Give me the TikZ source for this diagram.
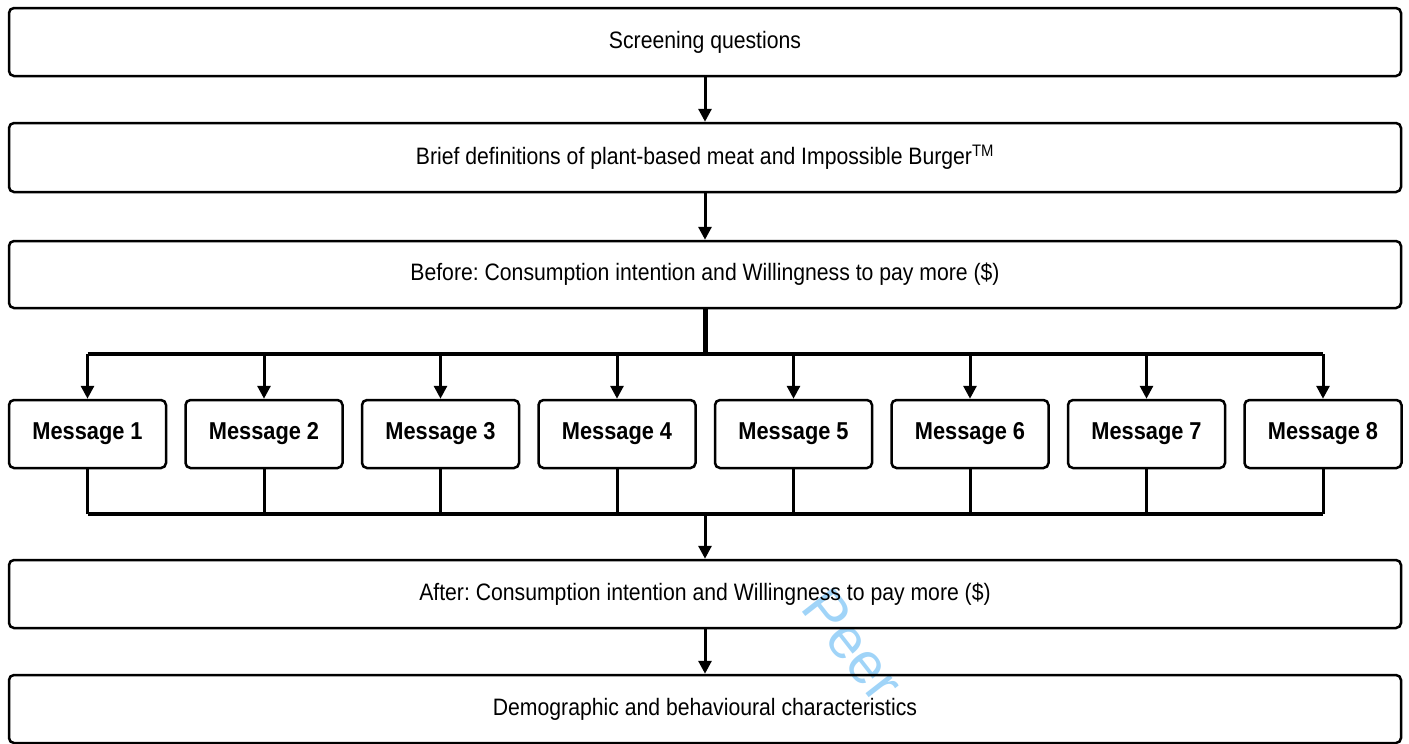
\documentclass[tikz,border=0pt]{standalone}
\usepackage{fontspec}
\setmainfont{Liberation Sans}
\usetikzlibrary{arrows.meta,calc}
\definecolor{wm}{RGB}{160,212,248}
\newcommand{\stt}[1]{\scalebox{1}[1.12]{#1}}
\begin{document}
\frenchspacing
\begin{tikzpicture}[x=1pt,y=-1pt,
  bigbox/.style={draw=black,line width=2.5pt,rounded corners=5pt,minimum width=1392pt,inner sep=0pt,font=\fontsize{21.2}{24}\selectfont},
  msgbox/.style={draw=black,line width=2.5pt,rounded corners=5pt,minimum width=157pt,minimum height=68pt,inner sep=0pt,font=\bfseries\fontsize{21.8}{24}\selectfont},
  arr/.style={line width=3pt,-{Triangle[width=13pt,length=13pt]}},
  conn/.style={line width=3.5pt},
  trunk/.style={line width=5pt}]
\useasboundingbox (0,0) rectangle (1409,744);
\node[rotate=-52,text=wm,font=\fontsize{58}{60}\selectfont] (wmk) at (853,645) {Peer};
\node[bigbox,minimum height=68pt] (b1) at (705,42) {\stt{Screening questions}};
\node[bigbox,minimum height=69pt] (b2) at (705,157.5) {\stt{Brief definitions of plant-based meat and Impossible Burger\textsuperscript{TM}}};
\node[bigbox,minimum height=67pt] (b3) at (705,274.5) {\stt{Before: Consumption intention and Willingness to pay more (\$)}};
\node[bigbox,minimum height=68pt] (b4) at (705,594) {\stt{After: Consumption intention and Willingness to pay more (\$)}};
\node[bigbox,minimum height=68pt] (b5) at (705,709) {\stt{Demographic and behavioural characteristics}};
\foreach \i in {1,...,8}{
  \node[msgbox] (m\i) at ({87.5+176.5*(\i-1)},434) {\stt{Message \i}};
}
\coordinate (top) at (705,354);
\coordinate (bot) at (705,514);
\draw[arr] (b1.south) -- (b2.north);
\draw[arr] (b2.south) -- (b3.north);
\draw[trunk] (b3.south) -- (top);
\draw[conn] (m1.north |- top) -- (m8.north |- top);
\foreach \i in {1,...,8}{
  \draw[arr] (m\i.north |- top) -- (m\i.north);
  \draw[line width=3pt] (m\i.south) -- (m\i.south |- bot);
}
\draw[conn] (m1.south |- bot) -- (m8.south |- bot);
\draw[arr] (bot) -- (b4.north);
\draw[arr] (b4.south) -- (b5.north);
\end{tikzpicture}
\end{document}
